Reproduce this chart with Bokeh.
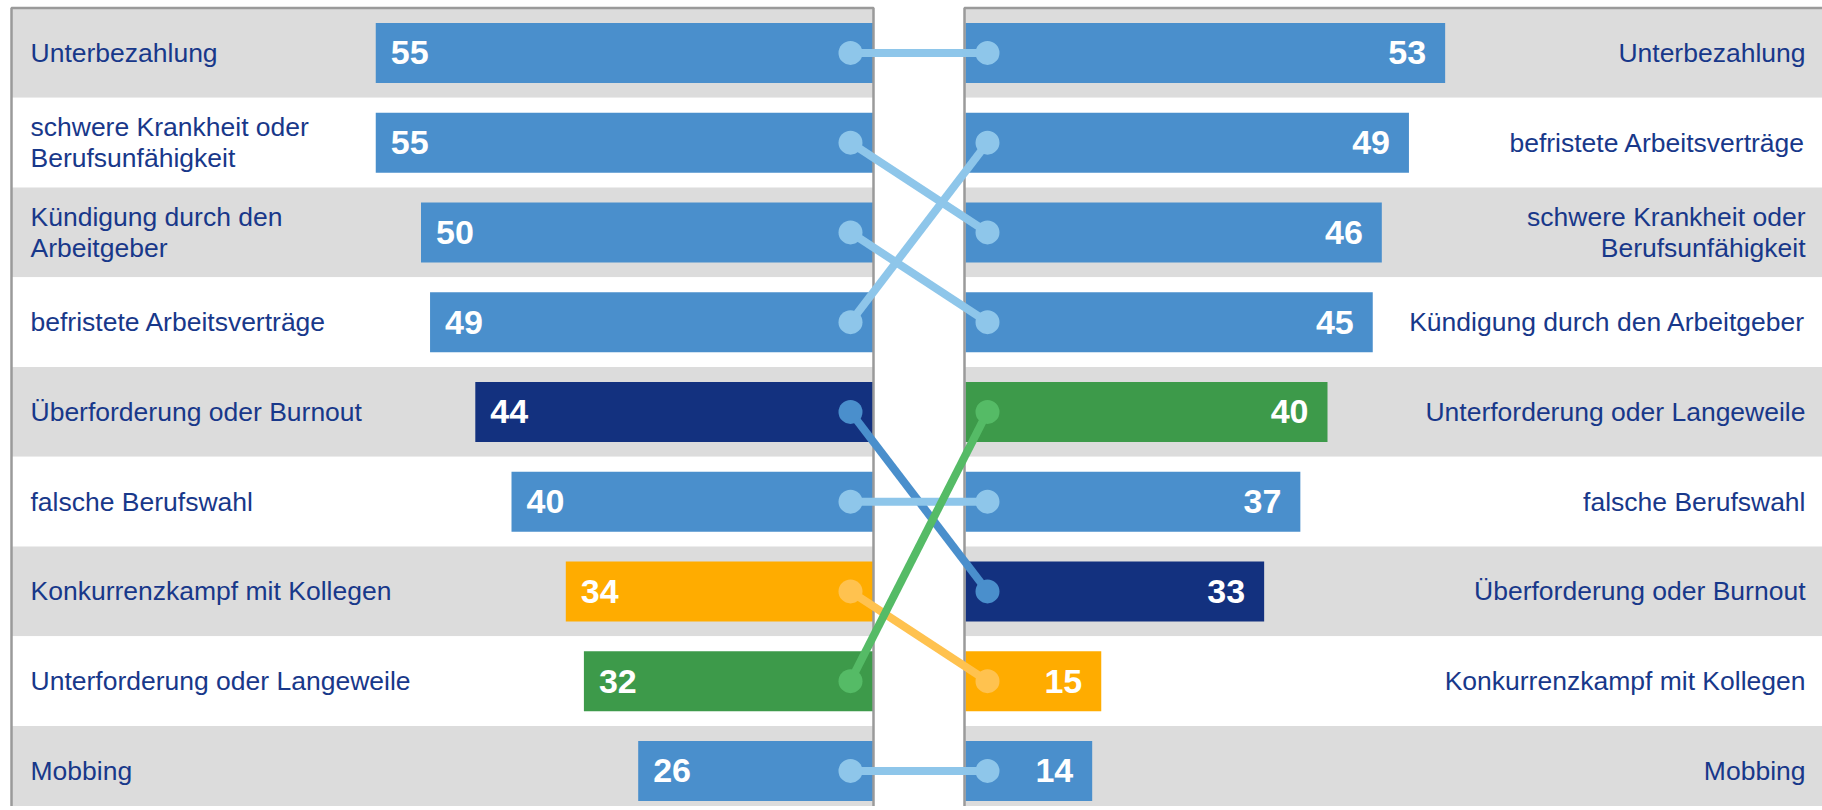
from bokeh.plotting import figure
from bokeh.models import Range1d
from bokeh.core.properties import value
from bokeh.embed import file_html
from bokeh.resources import INLINE

# ---------------- data ----------------
topics = ["Unterbezahlung", "Krankheit", "Kündigung", "befristet", "Überforderung",
          "Berufswahl", "Konkurrenz", "Unterforderung", "Mobbing"]
left_labels = ["Unterbezahlung", "schwere Krankheit oder\nBerufsunfähigkeit",
               "Kündigung durch den\nArbeitgeber", "befristete Arbeitsverträge",
               "Überforderung oder Burnout", "falsche Berufswahl",
               "Konkurrenzkampf mit Kollegen", "Unterforderung oder Langeweile", "Mobbing"]
left_values = [55, 55, 50, 49, 44, 40, 34, 32, 26]

right_topics = ["Unterbezahlung", "befristet", "Krankheit", "Kündigung", "Unterforderung",
                "Berufswahl", "Überforderung", "Konkurrenz", "Mobbing"]
right_labels = ["Unterbezahlung", "befristete Arbeitsverträge",
                "schwere Krankheit oder\nBerufsunfähigkeit", "Kündigung durch den Arbeitgeber",
                "Unterforderung oder Langeweile", "falsche Berufswahl",
                "Überforderung oder Burnout", "Konkurrenzkampf mit Kollegen", "Mobbing"]
right_values = [53, 49, 46, 45, 40, 37, 33, 15, 14]

bar_colors = {"Überforderung": "#13317F", "Konkurrenz": "#FFAC00", "Unterforderung": "#3D9A4A"}
line_colors = {"Überforderung": "#4A8FCC", "Konkurrenz": "#FFC24F", "Unterforderung": "#55BB66"}
BAR_DEFAULT = "#4A8FCC"
LINE_DEFAULT = "#8EC6EA"

# ---------------- geometry (pixels) ----------------
W, H = 1822, 806
PX = 9.05            # pixels per percentage point
LZ_PX = 873          # left zero (page px)
RZ_PX = 965          # right zero (page px)
ROW_PX = 89.75

x_start = -LZ_PX / PX
x_end = x_start + W / PX
RZ = (RZ_PX - LZ_PX) / PX


def px(n):
    return n / PX


def fx(page_x):
    return page_x / PX + x_start


y_top = -0.5 - 7.5 / ROW_PX
y_bottom = y_top + H / ROW_PX

p = figure(width=W, height=H, x_range=Range1d(x_start, x_end),
           y_range=Range1d(start=y_bottom, end=y_top),
           output_backend="svg", toolbar_location=None, min_border=0,
           outline_line_color=None, background_fill_color="white")
p.axis.visible = False
p.grid.visible = False

n = len(topics)
rows = list(range(n))
row_fill = ["#DCDCDC" if i % 2 == 0 else "#FFFFFF" for i in rows]

L_LEFT = fx(11)
R_RIGHT = x_end + 5

# row backgrounds
p.hbar(y=rows, left=L_LEFT, right=0, height=1.0, fill_color=row_fill, line_color=None)
p.hbar(y=rows, left=RZ - px(1), right=R_RIGHT, height=1.0, fill_color=row_fill, line_color=None)

# bars
lc = [bar_colors.get(t, BAR_DEFAULT) for t in topics]
rc = [bar_colors.get(t, BAR_DEFAULT) for t in right_topics]
BAR_H = 60 / ROW_PX
p.hbar(y=rows, left=[-v for v in left_values], right=0, height=BAR_H, fill_color=lc, line_color=None)
p.hbar(y=rows, left=RZ, right=[RZ + v for v in right_values], height=BAR_H, fill_color=rc, line_color=None)

# panel borders
p.quad(left=[L_LEFT, RZ - px(1)], right=[0, R_RIGHT], top=[-0.5, -0.5], bottom=[n + 1, n + 1],
       fill_color=None, line_color="#9A9A9A", line_width=2.5)

# connectors
DL = -px(23)
DR = RZ + px(22)
y1 = [right_topics.index(t) for t in topics]
cc = [line_colors.get(t, LINE_DEFAULT) for t in topics]
p.segment(x0=DL, y0=rows, x1=DR, y1=y1, line_color=cc, line_width=8)
p.scatter(x=DL, y=rows, size=24, fill_color=cc, line_color=None)
p.scatter(x=DR, y=y1, size=24, fill_color=cc, line_color=None)

# category labels
FONT = value("Liberation Sans")
LABEL_COLOR = "#18388A"
p.text(x=fx(30), y=rows, text=left_labels, text_font=FONT, text_font_size="26.5px",
       text_color=LABEL_COLOR, text_align="left", text_baseline="middle", text_line_height=1.05)
p.text(x=fx(1805), y=rows, text=right_labels, text_font=FONT, text_font_size="26.5px",
       text_color=LABEL_COLOR, text_align="right", text_baseline="middle", text_line_height=1.05)

# value labels
p.text(x=[-v + px(15) for v in left_values], y=rows, text=[str(v) for v in left_values],
       text_font=FONT, text_font_size="34px", text_font_style="bold", text_color="white",
       text_align="left", text_baseline="middle")
p.text(x=[RZ + v - px(19) for v in right_values], y=rows, text=[str(v) for v in right_values],
       text_font=FONT, text_font_size="34px", text_font_style="bold", text_color="white",
       text_align="right", text_baseline="middle")

open("out.html", "w").write(file_html(p, INLINE))
